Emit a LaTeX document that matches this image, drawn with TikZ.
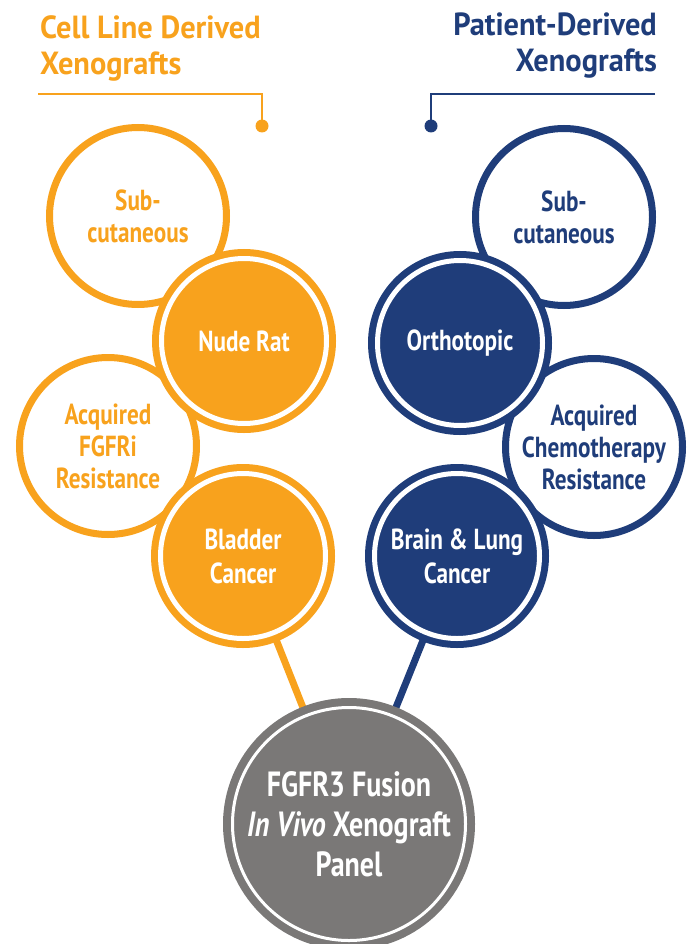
\documentclass[tikz,border=0pt]{standalone}
\usepackage{fontspec}
\setmainfont{PT Sans}
\newfontfamily\headfont[FakeStretch=0.95]{PT Sans}
\newfontfamily\condfont[FakeStretch=0.8]{PT Sans}
\usetikzlibrary{backgrounds}
\definecolor{xorange}{HTML}{F8A21D}
\definecolor{xblue}{HTML}{1F3D7A}
\definecolor{xgray}{HTML}{7A7877}

\begin{document}
\begin{tikzpicture}[x=1pt,y=-1pt,
  head/.style={font=\headfont\bfseries\fontsize{32}{36}\selectfont,inner sep=0pt},
  ring/.style={circle,draw=#1,line width=7pt,fill=white,minimum size=177pt,inner sep=0pt,
    align=center,text=#1,font=\condfont\bfseries\fontsize{29}{32}\selectfont},
  disc/.style={circle,draw=#1,fill=#1,line width=7pt,double=white,double distance=5pt,
    minimum size=165pt,inner sep=0pt,align=center,text=white,
    font=\condfont\bfseries\fontsize{29}{34}\selectfont},
  link/.style={line width=7pt,draw=#1}]
\useasboundingbox (0,0) rectangle (691,944);
% headers
\node[head,text=xorange,anchor=north west,align=left] (clhead) at (40,15) {Cell Line Derived\\Xenografts};
\node[head,text=xblue,anchor=north east,align=right] (pdhead) at (657,13) {Patient-Derived\\Xenografts};
\coordinate (clline) at (38,94);
\coordinate (cldot) at (262,126);
\coordinate (pdline) at (655,94);
\coordinate (pddot) at (431,126);
\draw[xorange,line width=1.2pt] (clline) -| (cldot);
\draw[xblue,line width=1.2pt] (pdline) -| (pddot);
\fill[xorange] (cldot) circle (6.5);
\fill[xblue] (pddot) circle (6.5);
% cell line side
\node[ring=xorange] (clsub) at (138,216) {Sub-\\cutaneous};
\node[ring=xorange] (clres) at (108,446) {Acquired\\FGFRi\\Resistance};
\node[disc=xorange] (clrat) at (244,341) {Nude Rat};
\node[disc=xorange] (clbladder) at (243,556) {Bladder\\Cancer};
% patient side
\node[ring=xblue] (pdsub) at (564,217) {Sub-\\cutaneous};
\node[ring=xblue] (pdres) at (594,447) {Acquired\\Chemotherapy\\Resistance};
\node[disc=xblue] (pdortho) at (460,343) {Orthotopic};
\node[disc=xblue] (pdbrain) at (457,556) {Brain \& Lung\\Cancer};
% panel
\node[disc=xgray,line width=8pt,double distance=3pt,minimum size=233pt,
  font=\condfont\bfseries\fontsize{35}{40}\selectfont] (panel) at (349,824)
  {FGFR3 Fusion\\\textit{In Vivo} Xenograft\\Panel};
\begin{scope}[on background layer]
\draw[link=xorange] (clbladder) -- (panel);
\draw[link=xblue] (pdbrain) -- (panel);
\end{scope}
\end{tikzpicture}
\end{document}
